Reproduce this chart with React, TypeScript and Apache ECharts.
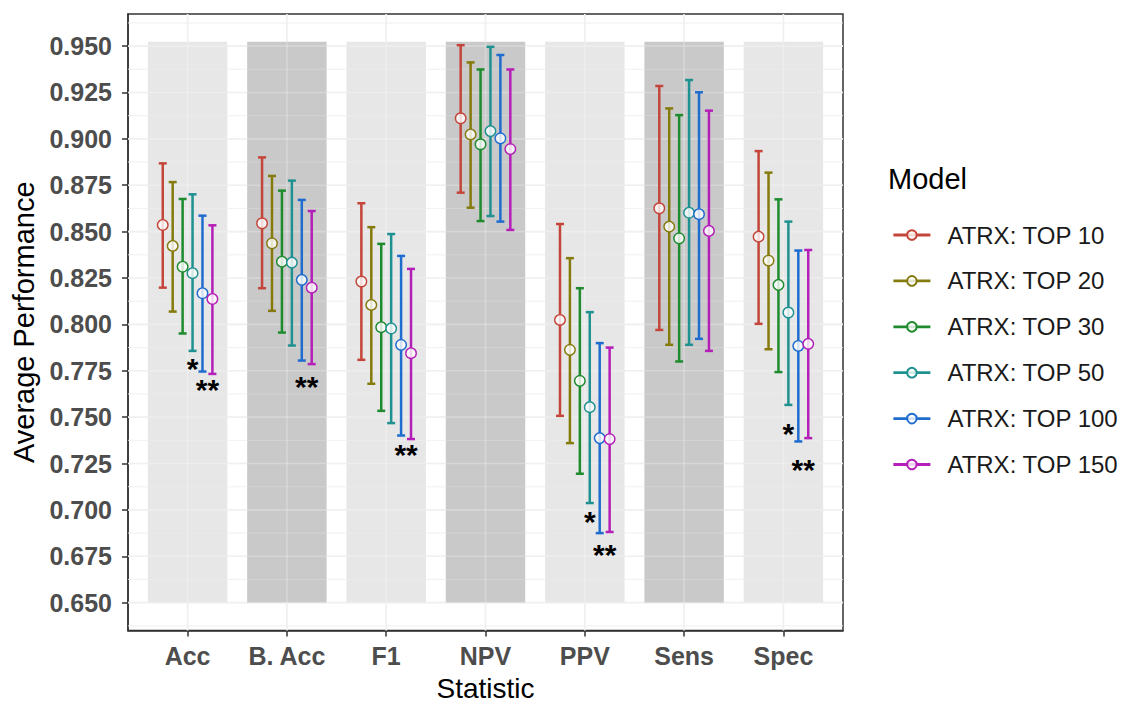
import React, { useEffect, useRef } from "react";
import * as echarts from "echarts";

const FONT = '"Liberation Sans", Arial, Helvetica, sans-serif';

const categories = ["Acc", "B. Acc", "F1", "NPV", "PPV", "Sens", "Spec"];
const models = ["ATRX: TOP 10", "ATRX: TOP 20", "ATRX: TOP 30", "ATRX: TOP 50", "ATRX: TOP 100", "ATRX: TOP 150"];
const modelColors = ["#C4453A", "#857A0C", "#1E8C2E", "#1F9191", "#1F6CCF", "#B41FB8"];

// mean, lower, upper per category (Acc, B. Acc, F1, NPV, PPV, Sens, Spec)
const top10Mean = [0.8536, 0.8545, 0.8231, 0.9111, 0.8024, 0.8626, 0.8473];
const top10Low = [0.8198, 0.8195, 0.7809, 0.871, 0.7507, 0.797, 0.8003];
const top10High = [0.8868, 0.89, 0.8653, 0.9505, 0.8541, 0.9285, 0.8934];

const top20Mean = [0.8423, 0.8437, 0.8105, 0.9024, 0.7863, 0.8527, 0.8344];
const top20Low = [0.8069, 0.8073, 0.768, 0.8629, 0.736, 0.789, 0.7866];
const top20High = [0.8767, 0.88, 0.8524, 0.9412, 0.8357, 0.9164, 0.8818];

const top30Mean = [0.8311, 0.8338, 0.7985, 0.8971, 0.7696, 0.8464, 0.8213];
const top30Low = [0.7951, 0.7956, 0.7534, 0.8557, 0.7195, 0.78, 0.7743];
const top30High = [0.8676, 0.8721, 0.8434, 0.9374, 0.8195, 0.9128, 0.8674];

const top50Mean = [0.8276, 0.8333, 0.7978, 0.9042, 0.7554, 0.8602, 0.8064];
const top50Low = [0.7857, 0.7886, 0.7468, 0.8584, 0.7037, 0.789, 0.7566];
const top50High = [0.8701, 0.8775, 0.8487, 0.9496, 0.8066, 0.9317, 0.8554];

const top100Mean = [0.8168, 0.824, 0.789, 0.9003, 0.7387, 0.8594, 0.7884];
const top100Low = [0.7746, 0.7805, 0.7401, 0.8554, 0.6875, 0.7922, 0.7369];
const top100High = [0.8586, 0.8671, 0.8369, 0.9452, 0.7899, 0.9251, 0.8398];

const top150Mean = [0.8137, 0.8198, 0.7845, 0.8945, 0.7382, 0.8504, 0.7895];
const top150Low = [0.7733, 0.7786, 0.7382, 0.8509, 0.6881, 0.7857, 0.7387];
const top150High = [0.8534, 0.8611, 0.8299, 0.9374, 0.7875, 0.9152, 0.8401];

const means = [top10Mean, top20Mean, top30Mean, top50Mean, top100Mean, top150Mean];
const lows = [top10Low, top20Low, top30Low, top50Low, top100Low, top150Low];
const highs = [top10High, top20High, top30High, top50High, top100High, top150High];

const yTicks = [0.65, 0.675, 0.7, 0.725, 0.75, 0.775, 0.8, 0.825, 0.85, 0.875, 0.9, 0.925, 0.95];
const yMinor = [0.6375, 0.6625, 0.6875, 0.7125, 0.7375, 0.7625, 0.7875, 0.8125, 0.8375, 0.8625, 0.8875, 0.9125, 0.9375, 0.9625];
const xTicks = [1, 2, 3, 4, 5, 6, 7];

const bandMin = 0.65;
const bandMax = 0.9523;

// significance annotations
const annX = [1.05, 1.2, 2.2, 3.2, 5.05, 5.2, 7.05, 7.2];
const annY = [0.7764, 0.7647, 0.7665, 0.7297, 0.6938, 0.6759, 0.7414, 0.7217];
const annText = ["*", "**", "**", "**", "*", "**", "*", "**"];

const DODGE = 0.1;

function buildOption(): any {
  const gridSeries = (name: string, color: string) => ({
    type: "custom",
    name,
    silent: true,
    z: 2,
    data: [
      ...yTicks.map((v) => [0, v, 1]),
      ...yMinor.map((v) => [0, v, 0]),
      ...xTicks.map((v) => [1, v, 1]),
    ],
    renderItem: (params: any, api: any) => {
      const cs = params.coordSys;
      const orient = api.value(0);
      const v = api.value(1);
      const major = api.value(2) === 1;
      const lw = major ? 1.6 : 0.8;
      if (orient === 0) {
        const p = api.coord([1, v]);
        return {
          type: "line",
          shape: { x1: cs.x, y1: p[1], x2: cs.x + cs.width, y2: p[1] },
          style: { stroke: color, lineWidth: lw },
        };
      }
      const p = api.coord([v, 0.8]);
      return {
        type: "line",
        shape: { x1: p[0], y1: cs.y, x2: p[0], y2: cs.y + cs.height },
        style: { stroke: color, lineWidth: lw },
      };
    },
  });

  const bandSeries = {
    type: "custom",
    name: "bands",
    silent: true,
    z: 2,
    data: xTicks.map((c) => [c, bandMin, bandMax]),
    renderItem: (params: any, api: any) => {
      const c = api.value(0);
      const p1 = api.coord([c - 0.4, api.value(2)]);
      const p2 = api.coord([c + 0.4, api.value(1)]);
      return {
        type: "rect",
        shape: { x: p1[0], y: p1[1], width: p2[0] - p1[0], height: p2[1] - p1[1] },
        style: { fill: params.dataIndex % 2 === 0 ? "#e7e7e7" : "#c9c9c9" },
      };
    },
  };

  const pointSeries = models.map((m, i) => ({
    type: "line",
    name: m,
    z: 4,
    data: categories.map((_, c) => [c + 1 + (i - 2.5) * DODGE, means[i][c]]),
    symbol: "circle",
    symbolSize: 10.5,
    showSymbol: true,
    lineStyle: { color: modelColors[i], opacity: 0, width: 0 },
    itemStyle: { color: "rgba(255,255,255,0.8)", borderColor: modelColors[i], borderWidth: 1.4 },
    emphasis: { disabled: true },
  }));

  const barSeries = models.map((m, i) => ({
    type: "custom",
    name: m,
    z: 3,
    silent: true,
    data: categories.map((_, c) => [c + 1 + (i - 2.5) * DODGE, lows[i][c], means[i][c], highs[i][c]]),
    encode: { x: 0, y: [1, 3] },
    renderItem: (params: any, api: any) => {
      const x = api.value(0);
      const pt = api.coord([x, api.value(3)]);
      const pb = api.coord([x, api.value(1)]);
      const cap = 4;
      const st = { stroke: modelColors[i], lineWidth: 2.5 };
      return {
        type: "group",
        children: [
          { type: "line", shape: { x1: pt[0], y1: pt[1], x2: pb[0], y2: pb[1] }, style: st },
          { type: "line", shape: { x1: pt[0] - cap, y1: pt[1], x2: pt[0] + cap, y2: pt[1] }, style: st },
          { type: "line", shape: { x1: pb[0] - cap, y1: pb[1], x2: pb[0] + cap, y2: pb[1] }, style: st },
        ],
      };
    },
  }));

  const annSeries = {
    type: "custom",
    name: "significance",
    silent: true,
    z: 5,
    data: annX.map((x, k) => [x, annY[k]]),
    renderItem: (params: any, api: any) => {
      const p = api.coord([api.value(0), api.value(1)]);
      return {
        type: "text",
        x: p[0],
        y: p[1],
        style: {
          text: annText[params.dataIndex],
          fontSize: 30,
          fontWeight: "bold",
          fontFamily: FONT,
          fill: "#000",
          align: "center",
          verticalAlign: "middle",
        },
      };
    },
  };

  return {
    animation: false,
    backgroundColor: "#ffffff",
    grid: {
      left: 128,
      top: 14,
      width: 715,
      height: 616.5,
      show: true,
      borderColor: "#333333",
      borderWidth: 1.5,
      backgroundColor: "transparent",
      outerBoundsMode: "none",
    },
    xAxis: {
      type: "value",
      min: 0.4,
      max: 7.6,
      name: "Statistic",
      nameLocation: "middle",
      nameGap: 44,
      nameTextStyle: { fontSize: 28, color: "#000", fontFamily: FONT },
      axisLine: { show: true, onZero: false, lineStyle: { color: "#333333", width: 1.5 } },
      axisTick: { show: true, length: 6, customValues: xTicks, lineStyle: { color: "#333333", width: 1.5 } },
      axisLabel: {
        customValues: xTicks,
        formatter: (v: number) => categories[Math.round(v) - 1] ?? "",
        fontSize: 25,
        fontWeight: "bold",
        color: "#4d4d4d",
        fontFamily: FONT,
        margin: 13,
      },
      splitLine: { show: false },
    },
    yAxis: {
      type: "value",
      min: 0.635,
      max: 0.9673,
      name: "Average Performance",
      nameLocation: "middle",
      nameRotate: 90,
      nameGap: 84,
      nameTextStyle: { fontSize: 29, color: "#000", fontFamily: FONT },
      axisLine: { show: true, onZero: false, lineStyle: { color: "#333333", width: 1.5 } },
      axisTick: { show: true, length: 6, customValues: yTicks, lineStyle: { color: "#333333", width: 1.5 } },
      axisLabel: {
        customValues: yTicks,
        formatter: (v: number) => v.toFixed(3),
        fontSize: 25,
        fontWeight: "bold",
        color: "#4d4d4d",
        fontFamily: FONT,
        margin: 16,
      },
      splitLine: { show: false },
      minorSplitLine: { show: false },
    },
    legend: {
      data: models,
      orient: "vertical",
      left: 892,
      top: 223,
      padding: 0,
      itemWidth: 37,
      itemHeight: 12,
      itemGap: 21.9,
      textStyle: { fontSize: 24, color: "#1a1a1a", fontFamily: FONT, padding: [0, 0, 0, 12] },
      lineStyle: { width: 2.8, opacity: 1 },
    },
    graphic: [
      {
        type: "text",
        x: 888,
        y: 179,
        style: { text: "Model", fontSize: 29, fontFamily: FONT, fill: "#000", verticalAlign: "middle" },
      },
    ],
    series: [
      ...pointSeries,
      gridSeries("grid-below", "#ebebeb"),
      bandSeries,
      gridSeries("grid-above", "rgba(255,255,255,0.25)"),
      ...barSeries,
      annSeries,
    ],
  };
}

export default function App() {
  const ref = useRef<HTMLDivElement>(null);
  useEffect(() => {
    if (!ref.current) return;
    const chart = echarts.init(ref.current, undefined, { renderer: "svg" });
    chart.setOption(buildOption());
    return () => chart.dispose();
  }, []);
  return (
    <div
      ref={ref}
      style={{ position: "fixed", left: 0, top: 0, width: 1125, height: 705, background: "#fff" }}
    />
  );
}
